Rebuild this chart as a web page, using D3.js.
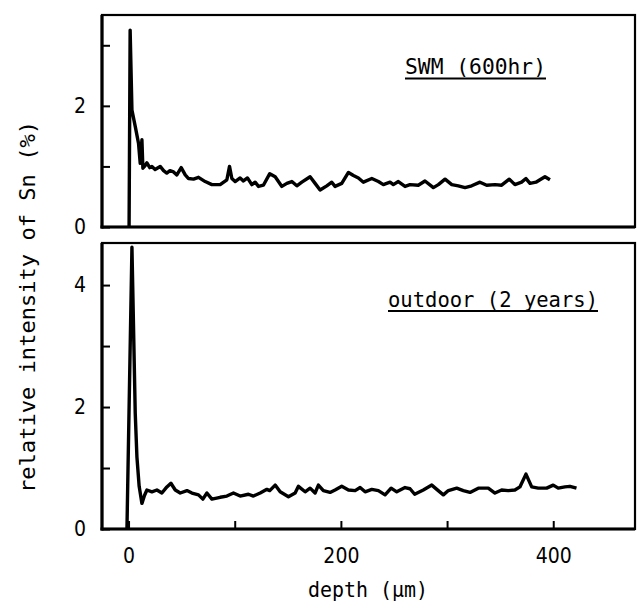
<!DOCTYPE html>
<html>
<head>
<meta charset="utf-8">
<script src="https://cdn.jsdelivr.net/npm/d3@7"></script>
<style>
  body { margin: 0; background: #fff; }
  svg { display: block; }
  .tick text { font-family: 'Liberation Sans Narrow', 'DejaVu Sans Condensed', 'DejaVu Sans', sans-serif; font-size: 21px; fill: #000; }
  .mono { font-family: 'DejaVu Sans Mono', 'Liberation Mono', monospace; font-size: 21px; fill: #000; }
</style>
</head>
<body>
<div id="chart"></div>
<script>
// depth (um) and relative intensity of Sn (%)
var swmDepth = [0.5, 1.5, 3.2, 6.3, 9.4, 11, 12.6, 13.5, 15, 17.3, 20, 22, 25, 29.8, 33, 36, 39, 42.4, 45.5, 49.6,
  53.4, 56.5, 61.2, 65.9, 72.2, 78.5, 86.3, 92.6, 95.1, 97.3, 100.4, 105.1, 108.2, 112, 116.1, 119.2, 122.4, 127,
  133, 138.1, 144.4, 149.1, 153.8, 158.5, 163.2, 171, 175.7, 180.4, 186.7, 191.4, 194.5, 200.8, 207.1, 211.8,
  216.5, 221.2, 229.1, 235.3, 240, 246.3, 249.4, 254.1, 260.4, 265.1, 272.9, 279.2, 287.1, 291.8, 298.1, 304.4,
  310.6, 316.9, 323.2, 331, 337.3, 345.1, 351.4, 358.6, 363.9, 370.2, 374.3, 378.1, 383.7, 387.5, 392.2, 396.9];
var swmValue = [0, 3.25, 1.93, 1.66, 1.38, 1.05, 1.44, 0.97, 1.0, 1.06, 0.98, 1.0, 0.95, 1.0, 0.93, 0.89, 0.93, 0.91, 0.86, 0.98,
  0.86, 0.80, 0.79, 0.82, 0.75, 0.70, 0.70, 0.78, 1.0, 0.80, 0.75, 0.81, 0.76, 0.81, 0.70, 0.74, 0.67, 0.69,
  0.88, 0.83, 0.67, 0.72, 0.75, 0.68, 0.74, 0.83, 0.72, 0.61, 0.68, 0.74, 0.67, 0.72, 0.90, 0.85,
  0.81, 0.74, 0.80, 0.75, 0.70, 0.74, 0.70, 0.75, 0.67, 0.70, 0.69, 0.76, 0.65, 0.70, 0.79, 0.70,
  0.68, 0.65, 0.68, 0.74, 0.69, 0.70, 0.69, 0.79, 0.70, 0.74, 0.80, 0.72, 0.74, 0.78, 0.83, 0.78];

var outDepth = [-1.5, 3.2, 6.3, 7.9, 10, 12.6, 15, 17.3, 22, 26.7, 31.4, 36.1, 39.9, 44, 48.7, 55, 59.7, 65.9, 70, 73.8,
  78.5, 86.3, 92.6, 98.8, 105.1, 112.9, 117.6, 124, 130.3, 133, 138.1, 142.8, 150.6, 156.9, 160, 166.3, 171,
  175.7, 178.8, 183.5, 189.8, 194.5, 200.8, 207.1, 213.4, 218.1, 222.8, 229.1, 235.3, 241.6, 247.3, 252.6,
  260.4, 265.1, 269.5, 277.6, 285.6, 290.3, 296.5, 301.2, 309.1, 315.3, 321.6, 329.4, 338.8, 345.1, 351.4,
  357.6, 363.9, 368.6, 374.3, 379.7, 385.9, 393.8, 400, 404.7, 411, 415.7, 421.9];
var outValue = [0, 4.62, 1.9, 1.18, 0.7, 0.42, 0.55, 0.64, 0.61, 0.64, 0.59, 0.69, 0.75, 0.64, 0.59, 0.63, 0.59, 0.56, 0.49, 0.59,
  0.49, 0.52, 0.54, 0.59, 0.54, 0.57, 0.54, 0.59, 0.65, 0.63, 0.72, 0.61, 0.53, 0.59, 0.70, 0.61, 0.67,
  0.59, 0.72, 0.63, 0.60, 0.64, 0.70, 0.64, 0.63, 0.68, 0.61, 0.65, 0.63, 0.56, 0.67, 0.61,
  0.68, 0.66, 0.57, 0.64, 0.72, 0.65, 0.56, 0.63, 0.67, 0.63, 0.60, 0.67, 0.67, 0.59, 0.64,
  0.63, 0.64, 0.69, 0.90, 0.69, 0.67, 0.67, 0.72, 0.67, 0.69, 0.70, 0.67];

var xTicks = [0, 100, 200, 300, 400];
var xLabels = [0, 200, 400];
var swmTicks = [0, 1, 2, 3];
var swmLabels = [0, 2];
var outTicks = [0, 1, 2, 3, 4];
var outLabels = [0, 2, 4];

var width = 637, height = 604;
var left = 102, right = 635;

var svg = d3.select('#chart').append('svg')
  .attr('width', width)
  .attr('height', height);

var x = d3.scaleLinear().domain([-25, 477]).range([left, right]);

var panels = [
  {depth: swmDepth, value: swmValue, top: 15, bottom: 227, max: 3.5, ticks: swmTicks, labels: swmLabels, xAxis: false},
  {depth: outDepth, value: outValue, top: 243, bottom: 529, max: 4.69, ticks: outTicks, labels: outLabels, xAxis: true}
];

panels.forEach(function(p) {
  var y = d3.scaleLinear().domain([0, p.max]).range([p.bottom, p.top]);
  var g = svg.append('g');

  // frame
  g.append('rect')
    .attr('x', left).attr('y', p.top)
    .attr('width', right - left).attr('height', p.bottom - p.top)
    .attr('fill', 'none').attr('stroke', '#000').attr('stroke-width', 2.2);
  g.append('line').attr('x1', left).attr('x2', left).attr('y1', p.top).attr('y2', p.bottom + 1.5)
    .attr('stroke', '#000').attr('stroke-width', 3.2);
  g.append('line').attr('x1', left - 1.5).attr('x2', right).attr('y1', p.bottom).attr('y2', p.bottom)
    .attr('stroke', '#000').attr('stroke-width', 3);

  var yAxis = d3.axisLeft(y)
    .tickValues(p.ticks)
    .tickSize(-8)
    .tickPadding(16)
    .tickFormat(function(d) { return p.labels.indexOf(d) >= 0 ? d : ''; });
  var ya = g.append('g').attr('transform', 'translate(' + left + ',0)').call(yAxis);
  ya.select('.domain').remove();
  ya.selectAll('.tick line').attr('stroke-width', 2);

  if (p.xAxis) {
    var xAxis = d3.axisBottom(x)
      .tickValues(xTicks)
      .tickSize(-8)
      .tickPadding(19)
      .tickFormat(function(d) { return xLabels.indexOf(d) >= 0 ? d : ''; });
    var xa = g.append('g').attr('transform', 'translate(0,' + p.bottom + ')').call(xAxis);
    xa.select('.domain').remove();
    xa.selectAll('.tick line').attr('stroke-width', 2);
  }

  var line = d3.line()
    .x(function(d, i) { return x(p.depth[i]); })
    .y(function(d) { return y(d); });

  g.append('path')
    .datum(p.value)
    .attr('d', line)
    .attr('fill', 'none')
    .attr('stroke', '#000')
    .attr('stroke-width', 3.4)
    .attr('stroke-linejoin', 'round');
});

// annotations
function note(txt, x0, base, len) {
  svg.append('text').attr('class', 'mono')
    .attr('x', x0).attr('y', base)
    .attr('textLength', len).attr('lengthAdjust', 'spacingAndGlyphs')
    .text(txt);
  svg.append('line')
    .attr('x1', x0).attr('x2', x0 + len)
    .attr('y1', base + 4.5).attr('y2', base + 4.5)
    .attr('stroke', '#000').attr('stroke-width', 1.8);
}
note('SWM (600hr)', 405, 74, 141);
note('outdoor (2 years)', 388, 306.5, 210);

svg.append('text').attr('class', 'mono')
  .attr('x', 308).attr('y', 597)
  .attr('textLength', 120).attr('lengthAdjust', 'spacingAndGlyphs')
  .text('depth (\u03bcm)');

svg.append('text').attr('class', 'mono')
  .attr('transform', 'translate(35,307) rotate(-90)')
  .attr('text-anchor', 'middle')
  .attr('textLength', 372).attr('lengthAdjust', 'spacingAndGlyphs')
  .text('relative intensity of Sn (%)');
</script>
</body>
</html>
